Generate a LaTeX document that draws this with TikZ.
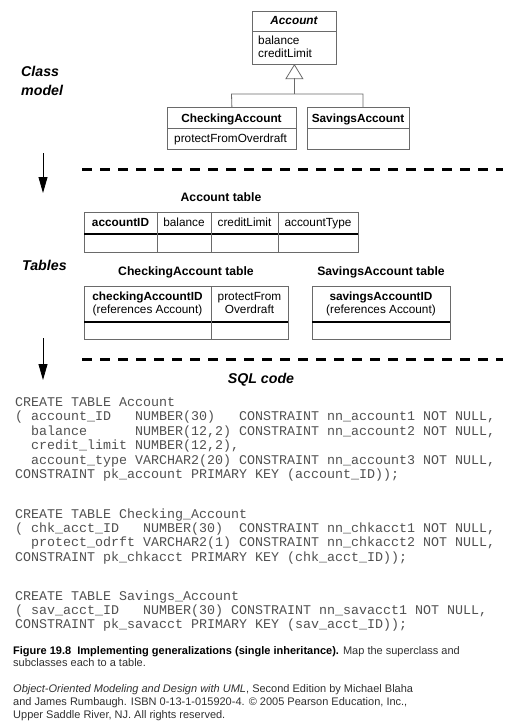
\documentclass[tikz,border=0pt]{standalone}
\usepackage{fontspec}
\setmainfont{Liberation Sans}
\setmonofont{Liberation Mono}
\usetikzlibrary{arrows.meta}
\definecolor{linegray}{HTML}{6A6A6A}
\definecolor{codegray}{HTML}{505050}
\definecolor{capgray}{HTML}{303030}
\tikzset{
  boxline/.style={draw=linegray, line width=0.8pt},
  umlbox/.style={boxline, inner sep=0pt, anchor=north west},
  thickrule/.style={line width=2.6pt, black},
  txt/.style={font=\fontsize{11.8}{14}\selectfont, inner sep=0pt, anchor=base},
  txtb/.style={font=\fontsize{11.8}{14}\selectfont\bfseries, inner sep=0pt, anchor=base},
  tabtitle/.style={font=\fontsize{12.2}{14}\selectfont\bfseries, inner sep=0pt, anchor=base},
  seclabel/.style={font=\fontsize{14.2}{17}\selectfont\bfseries\itshape, inner sep=0pt, anchor=base west},
  sqlcode/.style={font=\fontsize{13.33}{14.45}\selectfont\ttfamily, text=codegray, inner sep=0pt, anchor=base west},
  flowarrow/.style={-{Triangle[length=16pt,width=9pt]}, line width=0.8pt, black},
  dashdivider/.style={line width=3pt, dash pattern=on 10pt off 8pt, black},
  captext/.style={font=\fontsize{11}{13}\selectfont, text=capgray, inner sep=0pt, anchor=base west}
}
\begin{document}
\begin{tikzpicture}[x=1pt,y=-1pt]
\useasboundingbox (0,0) rectangle (518,725);

% ---------- Class model ----------
\node[seclabel] (lclass) at (21,77) {Class};
\node[seclabel] (lmodel) at (21,95) {model};

\node[umlbox, minimum width=84pt, minimum height=53pt] (acc) at (252,11) {};
\draw[boxline] (252,31) -- (336,31);
\node[txtb, font=\fontsize{11.8}{14}\selectfont\bfseries\itshape] (accn) at (294,25) {Account};
\node[txt, anchor=base west] (acca1) at (258,45) {balance};
\node[txt, anchor=base west] (acca2) at (258,57) {creditLimit};

\node[umlbox, minimum width=129pt, minimum height=42pt] (chk) at (167,107) {};
\draw[boxline] (167,128) -- (296,128);
\node[txtb] (chkn) at (231.5,122) {CheckingAccount};
\node[txt, anchor=base west] (chka) at (174,142) {protectFromOverdraft};

\node[umlbox, minimum width=102pt, minimum height=42pt] (sav) at (307,107) {};
\draw[boxline] (307,128) -- (409,128);
\node[txtb] (savn) at (358,122) {SavingsAccount};

% generalization
\coordinate (tribase) at (294,78);
\coordinate (bar) at (294,94);
\coordinate (barL) at (231.5,94);
\coordinate (barR) at (363,94);
\coordinate (savtop) at (363,107);
\draw[boxline] (acc.south) -- ++(-8.5,14) -- ++(17,0) -- cycle;
\draw[boxline] (tribase) -- (bar);
\draw[boxline] (chk.north) -- (barL) -- (barR) -- (savtop);

% ---------- arrow 1 and divider 1 ----------
\coordinate (a1s) at (43,153);
\coordinate (a1e) at (43,193);
\draw[flowarrow] (a1s) -- (a1e);
\coordinate (d1s) at (82,169);
\coordinate (d1e) at (503,169);
\draw[dashdivider] (d1s) -- (d1e);

% ---------- Tables ----------
\node[seclabel] (ltables) at (22,270) {Tables};

\node[tabtitle] (tacc) at (221,201) {Account table};
\node[umlbox, minimum width=274pt, minimum height=40pt] (acct) at (84,212) {};
\draw[thickrule] (84,234) -- (358,234);
\draw[boxline] (157,212) -- (157,252);
\draw[boxline] (211,212) -- (211,252);
\draw[boxline] (278,212) -- (278,252);
\node[txtb] (c1) at (120.5,226) {accountID};
\node[txt] (c2) at (184,226) {balance};
\node[txt] (c3) at (244.5,226) {creditLimit};
\node[txt] (c4) at (318,226) {accountType};

\node[tabtitle] (tchk) at (186,275) {CheckingAccount table};
\node[umlbox, minimum width=204pt, minimum height=53pt] (chkt) at (84,286) {};
\draw[thickrule] (84,322) -- (288,322);
\draw[boxline] (211,286) -- (211,339);
\node[txtb] (k1) at (147.5,300.5) {checkingAccountID};
\node[txt] (k2) at (147.5,313) {(references Account)};
\node[txt] (k3) at (249.5,300.5) {protectFrom};
\node[txt] (k4) at (249.5,313) {Overdraft};

\node[tabtitle] (tsav) at (381,275) {SavingsAccount table};
\node[umlbox, minimum width=138pt, minimum height=53pt] (savt) at (312,286) {};
\draw[thickrule] (312,322) -- (450,322);
\node[txtb] (s1) at (381,300.5) {savingsAccountID};
\node[txt] (s2) at (381,313) {(references Account)};

% ---------- arrow 2 and divider 2 ----------
\coordinate (a2s) at (43,338);
\coordinate (a2e) at (43,380);
\draw[flowarrow] (a2s) -- (a2e);
\coordinate (d2s) at (82,359);
\coordinate (d2e) at (503,359);
\draw[dashdivider] (d2s) -- (d2e);

% ---------- SQL code ----------
\node[seclabel, anchor=base] (lsql) at (261,383) {SQL code};

\node[sqlcode] (q1) at (15,406.5) {CREATE TABLE Account};
\node[sqlcode] (q2) at (15,420.9) {(~account\_ID~~~NUMBER(30)~~~CONSTRAINT~nn\_account1~NOT~NULL,};
\node[sqlcode] (q3) at (15,435.3) {~~balance~~~~~~NUMBER(12,2)~CONSTRAINT~nn\_account2~NOT~NULL,};
\node[sqlcode] (q4) at (15,449.7) {~~credit\_limit~NUMBER(12,2),};
\node[sqlcode] (q5) at (15,464.1) {~~account\_type~VARCHAR2(20)~CONSTRAINT~nn\_account3~NOT~NULL,};
\node[sqlcode] (q6) at (15,478.5) {CONSTRAINT~pk\_account~PRIMARY~KEY~(account\_ID));};

\node[sqlcode] (r1) at (15,518) {CREATE TABLE Checking\_Account};
\node[sqlcode] (r2) at (15,532.4) {(~chk\_acct\_ID~~~NUMBER(30)~~CONSTRAINT~nn\_chkacct1~NOT~NULL,};
\node[sqlcode] (r3) at (15,546.8) {~~protect\_odrft~VARCHAR2(1)~CONSTRAINT~nn\_chkacct2~NOT~NULL,};
\node[sqlcode] (r4) at (15,561.2) {CONSTRAINT~pk\_chkacct~PRIMARY~KEY~(chk\_acct\_ID));};

\node[sqlcode] (t1) at (15,600) {CREATE TABLE Savings\_Account};
\node[sqlcode] (t2) at (15,614.4) {(~sav\_acct\_ID~~~NUMBER(30)~CONSTRAINT~nn\_savacct1~NOT~NULL,};
\node[sqlcode] (t3) at (15,628.8) {CONSTRAINT~pk\_savacct~PRIMARY~KEY~(sav\_acct\_ID));};

% ---------- caption ----------
\node[captext] (cap1) at (13,654) {{\color{black}\bfseries Figure 19.8\ \ Implementing generalizations (single inheritance).} Map the superclass and};
\node[captext] (cap2) at (13,666.5) {subclasses each to a table.};

\node[captext] (cr1) at (13,692.7) {\textit{Object-Oriented Modeling and Design with UML}, Second Edition by Michael Blaha};
\node[captext] (cr2) at (13,705.5) {and James Rumbaugh. ISBN 0-13-1-015920-4. © 2005 Pearson Education, Inc.,};
\node[captext] (cr3) at (13,718.3) {Upper Saddle River, NJ. All rights reserved.};
\end{tikzpicture}
\end{document}
